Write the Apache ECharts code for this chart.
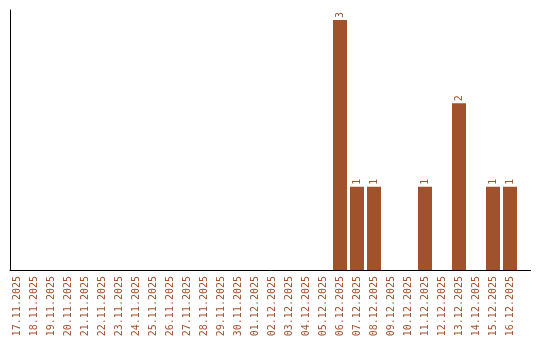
<!DOCTYPE html>
<html><head><meta charset="utf-8">
<script src="https://cdn.jsdelivr.net/npm/echarts@6/dist/echarts.min.js"></script>
<style>html,body{margin:0;padding:0;background:#fff}#c{width:540px;height:340px}</style>
</head><body><div id="c"></div>
<script>
const categories = ['17.11.2025','18.11.2025','19.11.2025','20.11.2025','21.11.2025','22.11.2025','23.11.2025','24.11.2025','25.11.2025','26.11.2025','27.11.2025','28.11.2025','29.11.2025','30.11.2025','01.12.2025','02.12.2025','03.12.2025','04.12.2025','05.12.2025','06.12.2025','07.12.2025','08.12.2025','09.12.2025','10.12.2025','11.12.2025','12.12.2025','13.12.2025','14.12.2025','15.12.2025','16.12.2025'];
const values = [0,0,0,0,0,0,0,0,0,0,0,0,0,0,0,0,0,0,0,3,1,1,0,0,1,0,2,0,1,1];
const yMax = 3.12;

const color = '#a0522d';
const font = 'DejaVu Sans Mono';
const chart = echarts.init(document.getElementById('c'));
chart.setOption({
  animation: false,
  grid: [
    {left: 10, right: 9.5, top: 10, height: 260},
    {left: 8.5, width: 510, top: 10, height: 260}
  ],
  xAxis: [
    {gridIndex: 0, type: 'category', data: categories, axisLine: {show: true, lineStyle: {color: '#000', width: 1}}, axisTick: {show: false}, axisLabel: {show: false}},
    {gridIndex: 1, type: 'category', data: categories, axisLine: {show: false}, axisTick: {show: false},
     axisLabel: {rotate: 90, margin: 6, interval: 0, color: color, fontFamily: font, fontSize: 10}}
  ],
  yAxis: [
    {gridIndex: 0, type: 'value', min: 0, max: yMax, axisLine: {show: true, lineStyle: {color: '#000', width: 1}}, axisTick: {show: false}, axisLabel: {show: false}, splitLine: {show: false}},
    {gridIndex: 1, type: 'value', min: 0, max: yMax, axisLine: {show: false}, axisTick: {show: false}, axisLabel: {show: false}, splitLine: {show: false}}
  ],
  series: [{
    type: 'bar', xAxisIndex: 1, yAxisIndex: 1, data: values, barWidth: 14,
    itemStyle: {color: color},
    label: {show: true, position: 'top', rotate: 90, align: 'left', verticalAlign: 'middle', distance: 2,
      color: color, fontFamily: font, fontSize: 10,
      formatter: p => p.value ? String(p.value) : ''}
  }]
});
</script></body></html>
